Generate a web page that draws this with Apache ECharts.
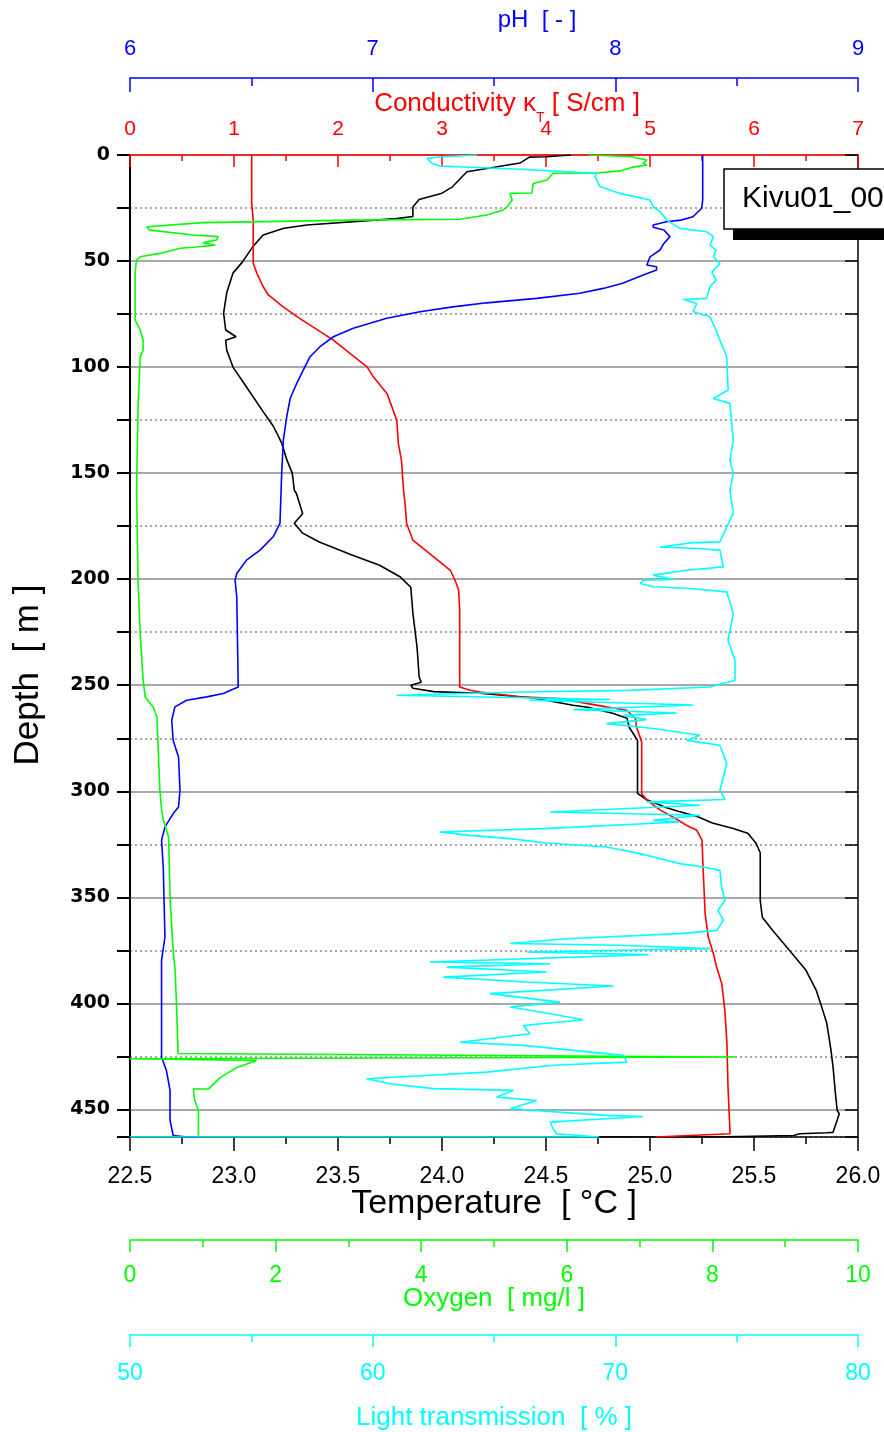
<!DOCTYPE html>
<html><head><meta charset="utf-8">
<script src="https://cdn.jsdelivr.net/npm/echarts@6/dist/echarts.min.js"></script>
<style>html,body{margin:0;padding:0;background:#fff}#c{width:884px;height:1432px}</style>
</head><body><div id="c"></div>
<script>
// [depth m, value]
const temperature = [[0,24.62],[0.8,24.50],[1,24.42],[3.8,24.375],[4.7,24.375],[7.9,24.12],[15,24.05],[18,24.0],[21,23.89],[24.5,23.86],[29,23.86],[30,23.78],[33,23.35],[34.5,23.24],[37.7,23.14],[43.3,23.09],[50.5,23.04],[55.7,22.995],[65,22.965],[74.5,22.95],[82.5,22.96],[85.7,23.01],[87.3,22.96],[92,22.965],[100,22.995],[109.4,23.06],[121,23.14],[128,23.19],[136,23.23],[144,23.255],[150,23.28],[158,23.29],[159.6,23.30],[169,23.33],[173.6,23.29],[178.3,23.33],[182.5,23.41],[188.7,23.57],[193.4,23.70],[199,23.80],[203.8,23.85],[216,23.86],[232,23.88],[246,23.89],[248.6,23.90],[250,23.85],[251.4,23.86],[253,23.96],[253.8,24.18],[256,24.44],[259.4,24.63],[260.4,24.70],[263.2,24.82],[265.6,24.89],[269.8,24.90],[276,24.94],[282,24.94],[301,24.94],[304,24.985],[307.8,25.08],[309.5,25.14],[312,25.23],[315,25.30],[317.5,25.40],[319.8,25.47],[324.5,25.51],[329,25.53],[351.4,25.53],[359.4,25.54],[365.6,25.59],[375,25.67],[384.4,25.75],[394,25.80],[400,25.82],[409.4,25.85],[422,25.87],[430,25.88],[441,25.89],[450.5,25.90],[452,25.91],[455,25.90],[460.8,25.88],[461,25.85],[461.5,25.72],[462.3,25.69],[463,25.30],[463,24.75]];
const conductivity = [[0,1.17],[22.8,1.17],[30.7,1.185],[51,1.185],[55.8,1.22],[62,1.28],[66,1.33],[71.5,1.47],[77,1.63],[83.3,1.83],[87.3,1.955],[93.5,2.115],[99.9,2.28],[104.6,2.34],[112.4,2.47],[120.3,2.53],[125,2.565],[136,2.58],[143.9,2.61],[158,2.63],[164.3,2.645],[173.7,2.66],[181.6,2.72],[189.5,2.92],[195.8,3.08],[200.5,3.125],[205,3.16],[214.6,3.17],[250.8,3.17],[252.4,3.27],[253.2,3.365],[255.5,3.75],[256.3,4.13],[260.2,4.58],[261.8,4.775],[265.7,4.86],[269.7,4.87],[276.7,4.92],[301,4.92],[304.2,4.97],[308.9,5.10],[312.1,5.22],[316,5.35],[318.4,5.45],[323,5.50],[335.7,5.51],[357.7,5.53],[368.7,5.56],[376.6,5.61],[382.9,5.64],[390.7,5.69],[403.3,5.72],[419,5.74],[439.5,5.75],[461.5,5.77],[463,5.05]];
const ph = [[0,8.36],[8.6,8.36],[21.2,8.36],[25.1,8.356],[29.1,8.32],[30.7,8.27],[31.5,8.21],[33,8.156],[34.1,8.156],[35.4,8.20],[38.5,8.225],[41.7,8.20],[44.8,8.184],[48,8.143],[51.9,8.13],[52.7,8.17],[54.2,8.17],[56.6,8.115],[60.5,8.03],[62.9,7.95],[65.2,7.854],[67.6,7.676],[69.7,7.47],[71.6,7.33],[73.9,7.195],[77,7.058],[81.7,6.92],[85.7,6.838],[90.4,6.783],[95.1,6.742],[101.4,6.714],[107.7,6.687],[114.8,6.66],[123.4,6.646],[134.4,6.632],[150.1,6.625],[173.7,6.618],[180,6.59],[186.3,6.536],[191,6.48],[197.3,6.44],[200.5,6.433],[208.4,6.44],[250.8,6.446],[253.9,6.384],[255.5,6.316],[257.1,6.234],[260.2,6.185],[266.5,6.172],[276,6.178],[283.8,6.2],[299.5,6.206],[307.4,6.2],[310.5,6.178],[316.8,6.144],[323.1,6.13],[335.7,6.137],[368.7,6.144],[379.7,6.13],[425.3,6.13],[431.6,6.15],[441,6.165],[455.2,6.165],[462.3,6.178],[463,6.234],[463,6.276]];
const oxygen = [[0,6.3],[0.8,6.9],[1.4,6.96],[2.4,7.10],[3.8,7.05],[4.7,7.10],[5.7,6.91],[7.5,6.73],[8.5,6.41],[8.6,5.81],[11.8,5.73],[13.4,5.54],[17.9,5.52],[18.1,5.22],[21.2,5.25],[24.5,5.18],[26,5.12],[28.3,4.90],[30.3,4.53],[30.7,3.06],[31.9,1.0],[33.8,0.23],[35.4,0.27],[37.7,0.87],[38.5,1.21],[40.1,1.19],[41.4,1.0],[42.5,1.17],[43.5,0.87],[44,0.69],[46.4,0.41],[48,0.14],[49.5,0.09],[55.7,0.07],[77.8,0.07],[82.5,0.14],[87.3,0.18],[92,0.18],[95.3,0.14],[118.9,0.11],[158,0.09],[200.5,0.11],[225.5,0.14],[247.6,0.18],[255.7,0.21],[260.4,0.32],[265.1,0.37],[282,0.39],[299.5,0.41],[309,0.435],[313.7,0.46],[321.7,0.53],[350,0.55],[373.6,0.59],[384.4,0.62],[401.9,0.64],[423.6,0.66],[424.5,0.66],[425.3,8.31],[426.1,0],[426.9,1.74],[430.2,1.47],[434.9,1.24],[440.3,1.08],[440.4,0.87],[445.8,0.89],[450.5,0.94],[462.3,0.94]];
const light = [[0,64.30],[0.8,62.86],[1.6,62.24],[3.9,62.44],[5.2,62.77],[6.7,66.07],[8.6,69.23],[10.2,69.16],[14.9,69.37],[18.1,70.19],[21.2,71.43],[24.4,71.56],[26.7,71.84],[30.7,72.12],[34.6,72.66],[36.2,73.77],[38.5,74.04],[42.5,73.90],[44.8,74.15],[48,74.04],[51.1,74.31],[55.2,73.98],[59,74.15],[62.1,73.90],[67.6,73.76],[68.1,72.80],[70,73.35],[73.9,73.21],[76.3,73.90],[82.5,74.15],[87.3,74.31],[95.1,74.59],[110.8,74.65],[114.8,74.04],[117.1,74.72],[134.4,74.86],[143.9,74.72],[150.1,74.86],[158,74.72],[169,74.86],[175.3,74.59],[182.4,74.31],[182.9,73.08],[184.8,71.84],[185.5,73.35],[186.3,74.31],[194.2,74.45],[195.8,72.94],[198.1,71.56],[200.1,72.39],[200.5,71.15],[202,71.02],[203.6,71.56],[204.4,73.08],[206,74.59],[216.2,74.86],[228.8,74.64],[238.2,74.93],[247.6,74.93],[250.8,73.90],[252.4,70.60],[253.2,66.21],[254.7,60.99],[256.7,69.78],[257.1,66.48],[259.3,73.21],[261.5,68.27],[263.1,72.53],[264.2,70.33],[266.2,71.29],[268.1,69.64],[270.4,71.56],[273.6,73.49],[276,72.94],[278.3,74.31],[287,74.59],[299.5,74.31],[303.9,74.52],[305,71.29],[306.6,73.49],[309.8,67.31],[311.3,73.49],[313.7,71.56],[314.5,72.66],[317.6,67.03],[319.2,62.77],[320.8,64.01],[322.3,65.66],[324.4,67.17],[326.3,69.64],[329.4,71.02],[332.5,72.12],[334.1,72.66],[335.7,73.62],[337.3,74.31],[345.1,74.38],[351.4,74.52],[356.1,74.23],[360.8,74.45],[365.6,74.18],[367.1,72.66],[369.5,68.00],[371.8,65.66],[372.6,70.19],[374.2,73.90],[375.8,66.35],[377,71.36],[380.5,62.36],[381.3,67.31],[382.9,63.05],[385.2,67.17],[387.6,62.91],[389.9,66.35],[391.8,69.92],[395.4,64.83],[399.4,67.72],[401.7,65.66],[404.9,67.31],[407.7,68.68],[410.4,66.21],[414.3,66.48],[418.3,63.60],[419.8,66.21],[424.5,70.33],[427.7,70.47],[429.2,67.44],[432.4,64.70],[435.5,59.75],[437.9,60.71],[440.2,62.50],[441,65.80],[444.2,65.11],[445.8,66.76],[449.7,65.66],[452.8,69.64],[453.3,71.14],[456,67.31],[459.1,67.44],[461.5,67.58],[463,69.33],[463,50]];

const depthTicks = {min:0, max:463, step:25};
const tempTicks = {min:22.5, max:26, step:0.5};
const condTicks = {min:0, max:7, step:1};
const phTicks = {min:6, max:9, step:1};
const oxyTicks = {min:0, max:10, step:2};
const lightTicks = {min:50, max:80, step:10};

const FONT = '"Liberation Sans", Arial, sans-serif';
const toXY = p => p.map(d => [d[1], d[0]]);

function xAx(t, color, pos, offset, opt) {
  return Object.assign({
    type:'value', position:pos, offset:offset, min:t.min, max:t.max, interval:t.step,
    nameMoveOverlap:false,
    axisLine:{show:true, onZero:false, lineStyle:{color:color, width:1.5}},
    axisTick:{show:true, inside:false, length:13, lineStyle:{color:color, width:1.5}},
    minorTick:{show:true, splitNumber:2, length:7, lineStyle:{color:color, width:1.5}},
    splitLine:{show:false},
    axisLabel:{color:color, fontFamily:FONT, fontSize:20, margin:20, showMinLabel:true, showMaxLabel:true}
  }, opt);
}

const chart = echarts.init(document.getElementById('c'), null, {renderer:'canvas'});
chart.setOption({
  animation:false,
  backgroundColor:'#ffffff',
  grid:{left:130, top:155, width:728, height:982, containLabel:false, outerBoundsMode:'none'},
  xAxis:[
    xAx(tempTicks, '#000', 'bottom', 0, {
      axisTick:{show:true, length:14, lineStyle:{color:'#000', width:1.5}},
      axisLabel:{color:'#000', fontFamily:FONT, fontSize:23, margin:28, formatter:v=>v.toFixed(1), showMinLabel:true, showMaxLabel:true},
      name:'Temperature  [ °C ]', nameLocation:'middle', nameGap:50,
      nameTextStyle:{color:'#000', fontFamily:FONT, fontSize:34}
    }),
    xAx(condTicks, '#ff0000', 'top', 0, {
      axisTick:{show:true, inside:true, length:12, lineStyle:{color:'#ff0000', width:1.5}},
      minorTick:{show:true, splitNumber:2, length:6, lineStyle:{color:'#ff0000', width:1.5}},
      axisLabel:{color:'#ff0000', fontFamily:FONT, fontSize:21, margin:15, showMinLabel:true, showMaxLabel:true},
      name:'{a|Conductivity κ}{s|T}{a| [ S/cm ]}', nameLocation:'middle', nameGap:30,
      nameTextStyle:{padding:[0,0,0,26], rich:{
        a:{color:'#ff0000', fontFamily:FONT, fontSize:26, lineHeight:42},
        s:{color:'#ff0000', fontFamily:FONT, fontSize:14, lineHeight:14, verticalAlign:'bottom'}
      }}
    }),
    xAx(phTicks, '#0000ff', 'top', 77, {
      axisTick:{show:true, inside:true, length:14, lineStyle:{color:'#0000ff', width:1.5}},
      minorTick:{show:true, splitNumber:2, length:8, lineStyle:{color:'#0000ff', width:1.5}},
      axisLabel:{color:'#0000ff', fontFamily:FONT, fontSize:22, margin:18, showMinLabel:true, showMaxLabel:true},
      name:'pH  [ - ]', nameLocation:'middle', nameGap:46,
      nameTextStyle:{color:'#0000ff', fontFamily:FONT, fontSize:24, padding:[0,0,0,86]}
    }),
    xAx(oxyTicks, '#00ff00', 'bottom', 103, {
      axisTick:{show:true, length:12, lineStyle:{color:'#00ff00', width:1.5}},
      axisLabel:{color:'#00ff00', fontFamily:FONT, fontSize:23, margin:24, showMinLabel:true, showMaxLabel:true},
      name:'Oxygen  [ mg/l ]', nameLocation:'middle', nameGap:46,
      nameTextStyle:{color:'#00ff00', fontFamily:FONT, fontSize:26}
    }),
    xAx(lightTicks, '#00ffff', 'bottom', 198, {
      axisTick:{show:true, length:12, lineStyle:{color:'#00ffff', width:1.5}},
      axisLabel:{color:'#00ffff', fontFamily:FONT, fontSize:23, margin:27, showMinLabel:true, showMaxLabel:true},
      name:'Light transmission  [ % ]', nameLocation:'middle', nameGap:70,
      nameTextStyle:{color:'#00ffff', fontFamily:FONT, fontSize:26}
    })
  ],
  yAxis:[
    {type:'value', inverse:true, position:'left', min:depthTicks.min, max:depthTicks.max, interval:depthTicks.step,
     nameMoveOverlap:false,
     axisLine:{show:true, onZero:false, lineStyle:{color:'#000', width:2}},
     axisTick:{show:true, length:13, lineStyle:{color:'#000', width:2}},
     axisLabel:{color:'#000', fontFamily:'"DejaVu Sans", sans-serif', fontWeight:'bold', fontSize:19, margin:20,
       formatter:v=> (v % 50 === 0 ? String(v) : '')},
     splitLine:{show:true, lineStyle:{color:['#8c8c8c','rgba(0,0,0,0)'], width:1.5}},
     name:'Depth  [ m ]', nameLocation:'middle', nameGap:84, nameRotate:90,
     nameTextStyle:{color:'#000', fontFamily:FONT, fontSize:35, padding:[0,58,0,0]}},
    {type:'value', inverse:true, position:'right', min:depthTicks.min, max:depthTicks.max, interval:depthTicks.step,
     axisLine:{show:true, onZero:false, lineStyle:{color:'#000', width:1.5}},
     axisTick:{show:true, inside:true, length:13, lineStyle:{color:'#000', width:1.5}},
     axisLabel:{show:false},
     splitLine:{show:true, lineStyle:{color:['rgba(0,0,0,0)','#8c8c8c'], width:1.5, type:[2,3]}}}
  ],
  series:[
    {type:'line', name:'Temperature', xAxisIndex:0, yAxisIndex:0, data:toXY(temperature), symbol:'none', lineStyle:{color:'#000', width:1.6}},
    {type:'line', name:'Conductivity', xAxisIndex:1, yAxisIndex:0, data:toXY(conductivity), symbol:'none', lineStyle:{color:'#ff0000', width:1.6}},
    {type:'line', name:'pH', xAxisIndex:2, yAxisIndex:0, data:toXY(ph), symbol:'none', lineStyle:{color:'#0000ff', width:1.6}},
    {type:'line', name:'Oxygen', xAxisIndex:3, yAxisIndex:0, data:toXY(oxygen), symbol:'none', lineStyle:{color:'#00ff00', width:1.6}},
    {type:'line', name:'Light', xAxisIndex:4, yAxisIndex:0, data:toXY(light), symbol:'none', lineStyle:{color:'#00ffff', width:1.6}}
  ],
  graphic:[
    {type:'rect', z:100, shape:{x:733, y:179, width:220, height:61}, style:{fill:'#000'}},
    {type:'rect', z:101, shape:{x:724, y:169, width:220, height:60}, style:{fill:'#fff', stroke:'#000', lineWidth:1.5}},
    {type:'text', z:102, x:742, y:199, style:{text:'Kivu01_001', fill:'#000', fontFamily:FONT, fontSize:30, verticalAlign:'middle'}}
  ]
});
</script></body></html>
